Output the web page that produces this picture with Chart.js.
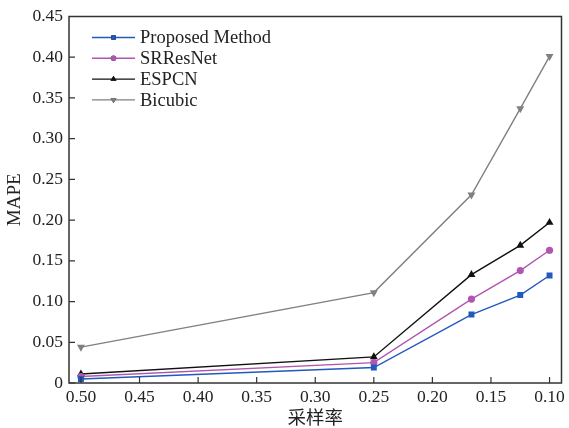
<!DOCTYPE html>
<html>
<head>
<meta charset="utf-8">
<script src="https://cdn.jsdelivr.net/npm/chart.js@4/dist/chart.umd.min.js"></script>
<style>
  html, body { margin: 0; padding: 0; background: #fff; }
  #wrap { width: 569px; height: 428px; }
</style>
</head>
<body>
<div id="wrap"><canvas id="mapeChart" width="569" height="428"></canvas></div>
<script>
// sampling rates and MAPE per method
const rates = [0.5, 0.25, 1 / 6, 0.125, 0.1];
const proposed = [0.005, 0.019, 0.084, 0.108, 0.132];
const srresnet = [0.008, 0.025, 0.103, 0.138, 0.163];
const espcn = [0.011, 0.032, 0.133, 0.169, 0.197];
const bicubic = [0.044, 0.111, 0.231, 0.337, 0.401];
const xTicks = [0.5, 0.45, 0.4, 0.35, 0.3, 0.25, 0.2, 0.15, 0.1];
const yTicks = [0, 0.05, 0.1, 0.15, 0.2, 0.25, 0.3, 0.35, 0.4, 0.45];

const serif = "'Liberation Serif', 'Times New Roman', serif";

function toPoints(vals) {
  return vals.map((v, i) => ({ x: rates[i], y: v }));
}

function series(label, vals, color, style, radius, rotation) {
  return {
    label,
    data: toPoints(vals),
    borderColor: color,
    backgroundColor: color,
    borderWidth: 1.4,
    pointStyle: style,
    pointRotation: rotation || 0,
    pointRadius: radius,
    pointBorderWidth: 0,
    tension: 0
  };
}

// frame, inward ticks and legend drawn by hand
const framePlugin = {
  id: "frame",
  afterDraw(chart) {
    const { ctx, chartArea: a, scales } = chart;
    ctx.save();
    ctx.strokeStyle = "#333";
    ctx.lineWidth = 1.5;
    ctx.strokeRect(a.left, a.top, a.right - a.left, a.bottom - a.top);
    ctx.lineWidth = 1.2;
    ctx.beginPath();
    xTicks.forEach(v => {
      const px = scales.x.getPixelForValue(v);
      ctx.moveTo(px, a.bottom);
      ctx.lineTo(px, a.bottom - 6);
    });
    yTicks.forEach(v => {
      const py = scales.y.getPixelForValue(v);
      ctx.moveTo(a.left, py);
      ctx.lineTo(a.left + 6, py);
    });
    ctx.stroke();

    // legend
    ctx.font = "18.5px " + serif;
    ctx.textBaseline = "middle";
    chart.data.datasets.forEach((ds, i) => {
      const y = a.top + 21 + i * 20.8;
      const x0 = a.left + 23, x1 = a.left + 66;
      ctx.strokeStyle = ds.borderColor;
      ctx.lineWidth = 1.4;
      ctx.beginPath();
      ctx.moveTo(x0, y);
      ctx.lineTo(x1, y);
      ctx.stroke();
      Chart.helpers.drawPoint(ctx, {
        pointStyle: ds.pointStyle,
        rotation: ds.pointRotation,
        radius: ds.pointRadius * 0.75,
        borderWidth: 0
      }, (x0 + x1) / 2, y);
      ctx.fillStyle = ds.borderColor;
      ctx.fill();
      ctx.fillStyle = "#222";
      ctx.fillText(ds.label, x1 + 5, y + 1);
    });
    ctx.restore();
  }
};

new Chart(document.getElementById("mapeChart"), {
  type: "line",
  data: {
    datasets: [
      series("Proposed Method", proposed, "#2159bd", "rect", 4.2),
      series("SRResNet", srresnet, "#b056b2", "circle", 3.6),
      series("ESPCN", espcn, "#111111", "triangle", 4.6),
      series("Bicubic", bicubic, "#808080", "triangle", 4.6, 180)
    ]
  },
  options: {
    responsive: false,
    animation: false,
    layout: { padding: { top: 15, right: 6, left: 0, bottom: 0 } },
    plugins: { legend: { display: false }, tooltip: { enabled: false } },
    scales: {
      x: {
        type: "linear",
        reverse: true,
        min: 0.0898,
        max: 0.5102,
        afterBuildTicks: s => { s.ticks = xTicks.map(v => ({ value: v })); },
        afterFit: s => { s.height = 45; },
        grid: { display: false, drawTicks: false },
        border: { display: false },
        ticks: {
          padding: 4,
          color: "#222",
          font: { family: serif, size: 17.5 },
          maxRotation: 0,
          callback: v => v.toFixed(2)
        },
        title: {
          display: true,
          text: "采样率",
          color: "#222",
          padding: { top: 0, bottom: 0 },
          font: { family: "'Noto Sans CJK SC', sans-serif", size: 18.5 }
        }
      },
      y: {
        min: 0,
        max: 0.45,
        afterBuildTicks: s => { s.ticks = yTicks.map(v => ({ value: v })); },
        afterFit: s => { s.width = 69; },
        grid: { display: false, drawTicks: false },
        border: { display: false },
        ticks: {
          padding: 6,
          color: "#222",
          font: { family: serif, size: 17.5 },
          callback: v => v === 0 ? "0" : v.toFixed(2)
        },
        title: {
          display: true,
          text: "MAPE",
          color: "#222",
          padding: { top: 4, bottom: 0 },
          font: { family: serif, size: 19 }
        }
      }
    }
  },
  plugins: [framePlugin]
});
</script>
</body>
</html>
